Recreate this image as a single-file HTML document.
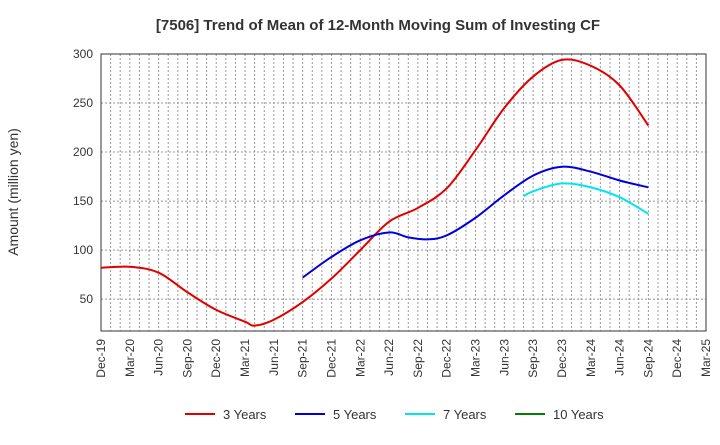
<!DOCTYPE html>
<html><head><meta charset="utf-8"><style>
body{margin:0;background:#fff;font-family:"Liberation Sans",sans-serif}
</style></head><body>
<svg id="c" width="720" height="440" xmlns="http://www.w3.org/2000/svg">
<text x="378" y="30" text-anchor="middle" font-size="15" font-weight="bold" fill="#333">[7506]  Trend of Mean of 12-Month Moving Sum of Investing CF</text>
<text transform="translate(18,192) rotate(-90)" text-anchor="middle" font-size="14" fill="#333">Amount (million yen)</text>
<g id="grid"></g><g id="series"></g><g id="axes"></g><g id="legend"></g>
</svg>
<script>
const xLabels=["Dec-19","Mar-20","Jun-20","Sep-20","Dec-20","Mar-21","Jun-21","Sep-21","Dec-21","Mar-22","Jun-22","Sep-22","Dec-22","Mar-23","Jun-23","Sep-23","Dec-23","Mar-24","Jun-24","Sep-24","Dec-24","Mar-25"];
const yTicks=[50,100,150,200,250,300];
const m3=[0,3,6,9,12,15,16,18,21,24,27,30,33,36,39,42,45,48,51,54,57];
const v3=[82,83,77,57,39,27,23,29,47,71,100,129,143,163,202,245,277,294,288,268,227];
const m5=[21,24,27,30,32,34,36,39,42,45,48,51,54,57];
const v5=[72,93,110,118,113,111,115,133,156,176,185,180,171,164];
const m7=[44,45,48,51,54,57];
const v7=[155,160,168,164,154,137];
const m10=[];const v10=[];
const X0=101,X1=706,Y0=54,Y1=331,NM=63;
const x=m=>X0+(X1-X0)*m/NM;
const y=v=>Y0+(300-v)*(Y1-Y0)/(300-17.5);
const NS="http://www.w3.org/2000/svg";
function mk(t,a,p){const e=document.createElementNS(NS,t);for(const k in a)e.setAttribute(k,a[k]);p.appendChild(e);return e;}
const grid=document.getElementById('grid'),axes=document.getElementById('axes'),ser=document.getElementById('series'),leg=document.getElementById('legend');
for(let m=1;m<NM;m++){const l=mk('line',{x1:x(m),x2:x(m),y1:Y0,y2:Y1,stroke:'#999','stroke-dasharray':'2,2','stroke-width':1},grid);

}
yTicks.forEach(v=>{const l=mk('line',{x1:X0,x2:X1,y1:y(v),y2:y(v),stroke:'#999','stroke-dasharray':'2,2','stroke-width':1},grid);


const t=mk('text',{x:X0-8,y:y(v)+4,'text-anchor':'end','font-size':12,fill:'#333'},axes);t.textContent=v;

});
xLabels.forEach((s,i)=>{const xx=x(i*3);const t=mk('text',{transform:`translate(${xx+4},${Y1+8}) rotate(-90)`,'text-anchor':'end','font-size':12,fill:'#333'},axes);t.textContent=s;

});
const fr=mk('rect',{x:X0,y:Y0,width:X1-X0,height:Y1-Y0,fill:'none',stroke:'#333','stroke-width':1},axes);


function path(ms,vs){const p=ms.map((m,i)=>[x(m),y(vs[i])]);if(!p.length)return '';let d=`M${p[0][0]},${p[0][1]}`;
for(let i=0;i<p.length-1;i++){const a=p[i-1]||p[i],b=p[i],c=p[i+1],e=p[i+2]||c;
d+=` C${b[0]+(c[0]-a[0])/6},${b[1]+(c[1]-a[1])/6} ${c[0]-(e[0]-b[0])/6},${c[1]-(e[1]-b[1])/6} ${c[0]},${c[1]}`;}return d;}
const S=[[m3,v3,'#e00000','3 Years','series-3-years'],[m5,v5,'#0000dd','5 Years','series-5-years'],[m7,v7,'#00e5ee','7 Years','series-7-years'],[m10,v10,'#008000','10 Years','series-10-years']];
const lx=[185,295,405,515];
S.forEach((s,i)=>{if(s[0].length){const p=mk('path',{d:path(s[0],s[1]),fill:'none',stroke:s[2],'stroke-width':2},ser);

}
const g=mk('g',{},leg);


mk('line',{x1:lx[i],x2:lx[i]+30,y1:414,y2:414,stroke:s[2],'stroke-width':2},g);
const t=mk('text',{x:lx[i]+38,y:419,'font-size':13,fill:'#333'},g);t.textContent=s[3];});
</script>
</body></html>
